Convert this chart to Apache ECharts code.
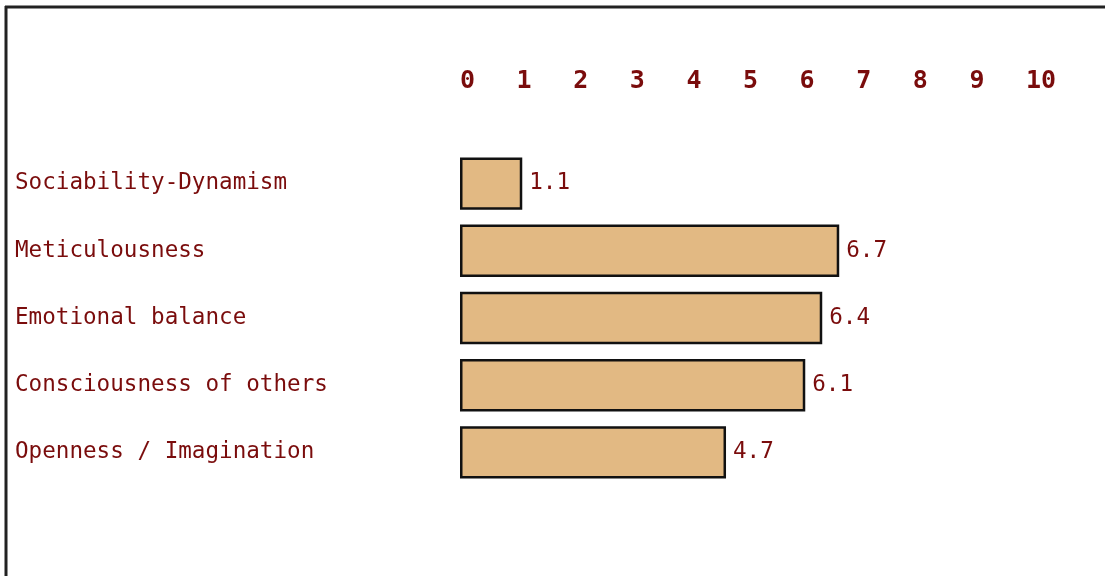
<!DOCTYPE html>
<html>
<head>
<meta charset="utf-8">
<script src="https://cdn.jsdelivr.net/npm/echarts@6/dist/echarts.min.js"></script>
<style>
  html, body { margin: 0; padding: 0; background: #fff; }
  #chart { width: 1105px; height: 576px; }
</style>
</head>
<body>
<div id="chart"></div>
<script>
var categories = ['Sociability-Dynamism', 'Meticulousness', 'Emotional balance', 'Consciousness of others', 'Openness / Imagination'];
var scores = [1.1, 6.7, 6.4, 6.1, 4.7];
var ticks = [0, 1, 2, 3, 4, 5, 6, 7, 8, 9, 10];

var textColor = '#7a0c0c';
var mono = '"DejaVu Sans Mono", "Liberation Mono", monospace';

var myChart = echarts.init(document.getElementById('chart'));

var option = {
    animation: false,
    backgroundColor: '#fff',
    graphic: [
        // frame round the chart (top and left only, the rest is cut off)
        { type: 'line', shape: { x1: 5, y1: 7, x2: 1105, y2: 7 }, style: { stroke: '#222', lineWidth: 3 } },
        { type: 'line', shape: { x1: 6, y1: 6, x2: 6, y2: 576 }, style: { stroke: '#222', lineWidth: 3 } }
    ],
    grid: {
        left: 460,
        right: 79,
        top: 150,
        bottom: 90
    },
    xAxis: {
        type: 'value',
        position: 'top',
        min: ticks[0],
        max: ticks[ticks.length - 1],
        interval: 1,
        axisLine: { show: false },
        axisTick: { show: false },
        splitLine: { show: false },
        axisLabel: {
            margin: 56,
            align: 'left',
            color: textColor,
            fontFamily: mono,
            fontWeight: 'bold',
            fontSize: 25,
            formatter: function (v) { return ticks.indexOf(v) >= 0 ? String(v) : ''; }
        }
    },
    yAxis: {
        type: 'category',
        inverse: true,
        data: categories,
        axisLine: { show: false },
        axisTick: { show: false },
        axisLabel: {
            align: 'left',
            margin: 445,
            color: textColor,
            fontFamily: mono,
            fontSize: 22.6
        }
    },
    series: [{
        type: 'bar',
        data: scores,
        barCategoryGap: '22%',
        itemStyle: {
            color: '#e2b983',
            borderColor: '#111',
            borderWidth: 2.5
        },
        label: {
            show: true,
            position: 'right',
            distance: 7,
            color: textColor,
            fontFamily: mono,
            fontSize: 22.6,
            formatter: function (p) { return p.value.toFixed(1); }
        }
    }]
};

myChart.setOption(option);
</script>
</body>
</html>
